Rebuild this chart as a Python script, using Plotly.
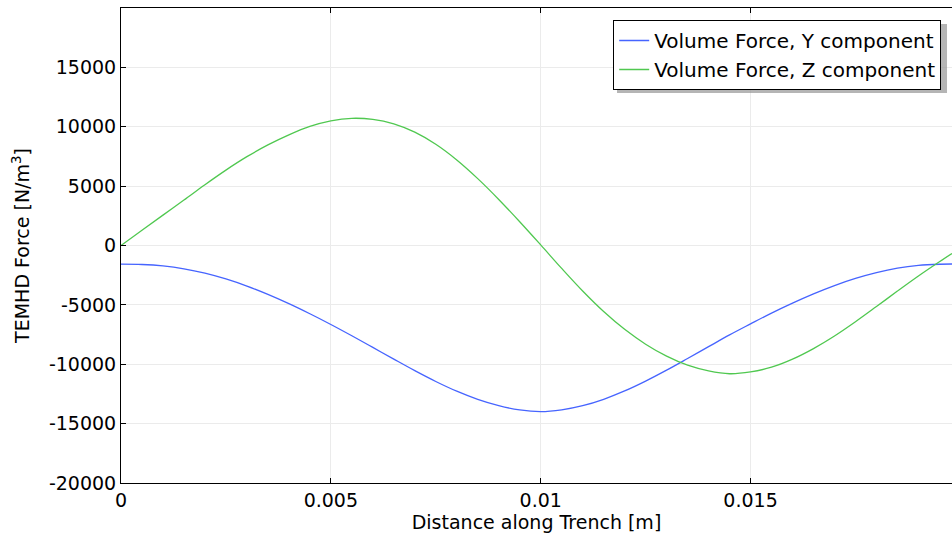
import plotly.graph_objects as go

# Distance along the trench [m]
distance = [
    0.0000, 0.0005, 0.0010, 0.0015, 0.0020, 0.0025, 0.0030, 0.0035, 0.0040, 0.0045,
    0.0050, 0.0055, 0.0060, 0.0065, 0.0070, 0.0075, 0.0080, 0.0085, 0.0090, 0.0095,
    0.0100, 0.0105, 0.0110, 0.0115, 0.0120, 0.0125, 0.0130, 0.0135, 0.0140, 0.0145,
    0.0150, 0.0155, 0.0160, 0.0165, 0.0170, 0.0175, 0.0180, 0.0185, 0.0190, 0.0195,
    0.0198,
]

# Volume force, Y component [N/m^3]
force_y = [
    -1570, -1600, -1720, -1960, -2330, -2820, -3420, -4120, -4900, -5750,
    -6650, -7600, -8580, -9570, -10540, -11450, -12270, -12960, -13490, -13850,
    -13990, -13840, -13490, -12950, -12250, -11420, -10500, -9520, -8520, -7530,
    -6600, -5690, -4850, -4070, -3370, -2770, -2280, -1910, -1680, -1580,
    -1560,
]

# Volume force, Z component [N/m^3]
force_z = [
    0, 1280, 2560, 3830, 5120, 6350, 7480, 8470, 9320, 10030,
    10500, 10710, 10620, 10240, 9540, 8520, 7200, 5630, 3880, 2000,
    50, -1930, -3830, -5560, -7060, -8310, -9320, -10080, -10560, -10800,
    -10650, -10250, -9570, -8680, -7620, -6420, -5140, -3840, -2570, -1370,
    -670,
]

series_names = ["Volume Force, Y component", "Volume Force, Z component"]
series_colors = ["rgb(70,100,255)", "rgb(80,200,80)"]

x_ticks = [0, 0.005, 0.01, 0.015]
x_tick_text = ["0", "0.005", "0.01", "0.015"]
y_ticks = [-20000, -15000, -10000, -5000, 0, 5000, 10000, 15000]
y_tick_text = ["-20000", "-15000", "-10000", "-5000", "0", "5000", "10000", "15000"]

FONT = "DejaVu Sans, sans-serif"

fig = go.Figure()
for name, vals, col in zip(series_names, [force_y, force_z], series_colors):
    fig.add_trace(go.Scatter(
        x=distance, y=vals, mode="lines", name=name,
        line=dict(color=col, width=1.3, shape="spline", smoothing=1.0),
    ))

# drop shadow behind the legend box
fig.add_shape(
    type="rect", xref="paper", yref="paper",
    x0=0.5969, x1=0.9940, y0=0.8211, y1=0.9663,
    fillcolor="rgba(150,150,150,0.7)", line=dict(width=0), layer="above",
)

fig.update_layout(
    width=952, height=536,
    margin=dict(l=121, r=0, t=8, b=53),
    paper_bgcolor="white", plot_bgcolor="white",
    font=dict(family=FONT, size=19, color="black"),
    showlegend=True,
    legend=dict(
        x=0.987, y=0.9747, xanchor="right", yanchor="top",
        bgcolor="white", bordercolor="black", borderwidth=1,
        font=dict(family=FONT, size=20, color="black"),
        itemwidth=30, tracegroupgap=0,
    ),
    xaxis=dict(
        range=[0, 0.0198],
        tickvals=x_ticks, ticktext=x_tick_text,
        ticks="inside", ticklen=5, tickcolor="black",
        showline=True, linecolor="black", linewidth=1, mirror="ticks",
        showgrid=True, gridcolor="#ebebeb", gridwidth=1,
        zeroline=False,
        title=dict(text="Distance along Trench [m]", standoff=2,
                   font=dict(family=FONT, size=19)),
        tickfont=dict(family=FONT, size=19),
    ),
    yaxis=dict(
        range=[-20000, 20000],
        tickvals=y_ticks, ticktext=y_tick_text,
        ticks="inside", ticklen=5, tickcolor="black",
        showline=True, linecolor="black", linewidth=1, mirror=False,
        showgrid=True, gridcolor="#ebebeb", gridwidth=1,
        zeroline=False,
        title=dict(text="TEMHD Force [N/m<sup>3</sup>]", standoff=14,
                   font=dict(family=FONT, size=19)),
        tickfont=dict(family=FONT, size=19),
    ),
)

fig.write_html("out.html")
